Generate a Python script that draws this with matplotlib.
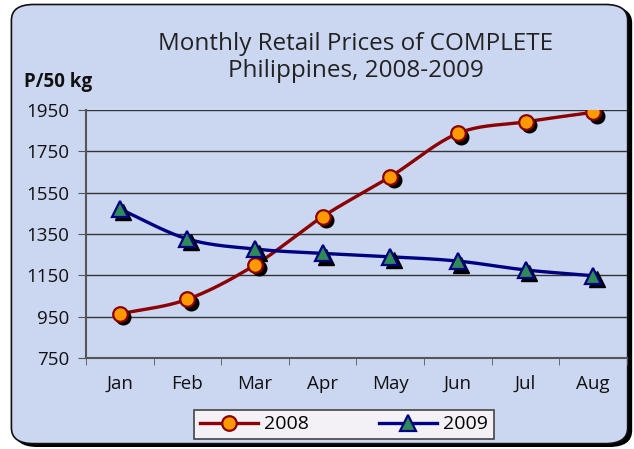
import numpy as np
import matplotlib
matplotlib.use("Agg")
import matplotlib.pyplot as plt
from matplotlib.patches import FancyBboxPatch
from matplotlib.lines import Line2D
from matplotlib.transforms import offset_copy

months = ["Jan", "Feb", "Mar", "Apr", "May", "Jun", "Jul", "Aug"]
prices_2008 = [963, 1034, 1200, 1434, 1627, 1837, 1893, 1939]
prices_2009 = [1471, 1326, 1277, 1256, 1240, 1219, 1176, 1148]
yticks = [750, 950, 1150, 1350, 1550, 1750, 1950]

plt.rcParams['font.family'] = ['Open Sans', 'DejaVu Sans']


def smooth(xs, ys, n=24):
    # catmull-rom curve through the points, like Excel "smoothed line"
    x = np.asarray(xs, float); y = np.asarray(ys, float)
    px = np.concatenate([[2*x[0]-x[1]], x, [2*x[-1]-x[-2]]])
    py = np.concatenate([[2*y[0]-y[1]], y, [2*y[-1]-y[-2]]])
    ox, oy = [], []
    t = np.linspace(0, 1, n, endpoint=False)
    for i in range(1, len(px)-2):
        for arr, out in ((px, ox), (py, oy)):
            p0, p1, p2, p3 = arr[i-1], arr[i], arr[i+1], arr[i+2]
            out.extend(0.5*((2*p1) + (-p0+p2)*t + (2*p0-5*p1+4*p2-p3)*t**2 + (-p0+3*p1-3*p2+p3)*t**3))
    ox.append(x[-1]); oy.append(y[-1])
    return np.array(ox), np.array(oy)


fig = plt.figure(figsize=(6.34, 4.49), dpi=100)
fig.patch.set_facecolor('white')

# rounded frame with shadow
shadow = FancyBboxPatch((0.024, 0.006), 0.972, 0.978, boxstyle="round,pad=0,rounding_size=0.035",
                        transform=fig.transFigure, facecolor='black', edgecolor='black', zorder=-2)
frame = FancyBboxPatch((0.018, 0.012), 0.972, 0.978, boxstyle="round,pad=0,rounding_size=0.035",
                       transform=fig.transFigure, facecolor='#cbd7f1', edgecolor='#111111', lw=1.2, zorder=-1)
fig.patches.extend([shadow, frame])

ax = fig.add_axes([0.1356, 0.2027, 0.8534, 0.5523])
ax.set_facecolor('none')
x = np.arange(len(months))

red_line = '#8b0000'
blue_line = '#000080'

for vals, lc, mk, mfc, ms in ((prices_2008, red_line, 'o', '#ff9900', 10.5),
                              (prices_2009, blue_line, '^', '#2e8b57', 11)):
    sx, sy = smooth(x, vals)
    ax.plot(sx, sy, color=lc, lw=2.4, zorder=3, solid_capstyle='round')
    sh = offset_copy(ax.transData, fig=fig, x=2.5, y=-2.5, units='points')
    ax.plot(x, vals, ls='none', marker=mk, ms=ms, mfc='black', mec='black', transform=sh, zorder=3.5)
    ax.plot(x, vals, ls='none', marker=mk, ms=ms, mfc=mfc, mec=lc, mew=1.6, zorder=4)

ax.set_xlim(-0.5, len(months) - 0.5)
ax.set_ylim(750, 1950)
ax.set_yticks(yticks)
ax.set_yticklabels([str(v) for v in yticks], fontsize=13.5, color='#111111')
ax.set_xticks(x)
ax.set_xticklabels(months, fontsize=13.5, color='#111111')
ax.set_xticks(np.arange(-0.5, len(months)), minor=True)
ax.tick_params(axis='x', which='major', length=0, pad=12)
ax.tick_params(axis='x', which='minor', length=5, direction='out', color='#555555')
ax.tick_params(axis='y', length=6, direction='out', color='#555555', pad=6)
ax.yaxis.grid(True, color='#333333', lw=1)
ax.set_axisbelow(True)
for s in ('top', 'right'):
    ax.spines[s].set_visible(False)
ax.spines['left'].set_color('#555555')
ax.spines['bottom'].set_color('#555555')
ax.spines['left'].set_linewidth(1.5)
ax.spines['bottom'].set_linewidth(1.5)

fig.text(0.5615, 0.872, "Monthly Retail Prices of COMPLETE\nPhilippines, 2008-2009",
         ha='center', va='center', fontsize=17.5, color='#222222', linespacing=1.12)
fig.text(0.038, 0.818, "P/50 kg", ha='left', va='center', fontsize=13.5, fontweight='bold', color='#111111')

handles = [Line2D([], [], color=red_line, lw=2.4, marker='o', ms=10.5, mfc='#ff9900', mec=red_line, mew=1.6),
           Line2D([], [], color=blue_line, lw=2.4, marker='^', ms=11, mfc='#2e8b57', mec=blue_line, mew=1.6)]
leg = fig.legend(handles, ["2008", "2009"], loc='center', bbox_to_anchor=(0.5426, 0.0546), ncol=2,
                 fontsize=14, frameon=True, fancybox=False, handlelength=3.0, columnspacing=3.6,
                 handletextpad=0.3, borderpad=0.3, borderaxespad=0)
leg.get_frame().set_facecolor('#f3f1f6')
leg.get_frame().set_edgecolor('#444444')
leg.get_frame().set_linewidth(1.2)
leg.get_frame().set_alpha(1)

fig.savefig("out.png", dpi=100, facecolor=fig.get_facecolor())
